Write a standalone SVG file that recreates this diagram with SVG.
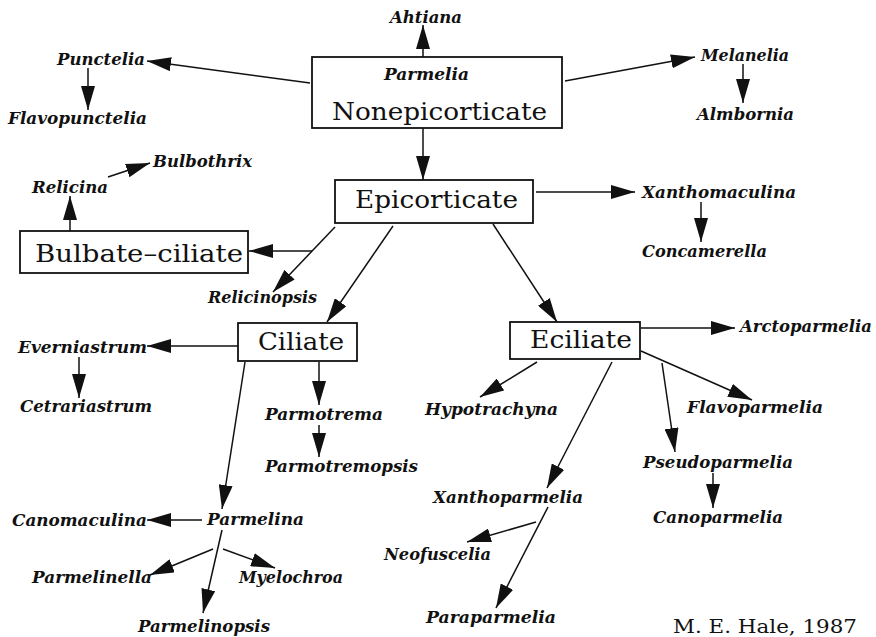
<svg xmlns="http://www.w3.org/2000/svg" width="876" height="637" viewBox="0 0 876 637">
<defs>
<style>
.box{fill:#fff;stroke:#111;stroke-width:1.8}
.big{font-family:"DejaVu Serif","Liberation Serif",serif;font-size:23.5px;fill:#111}
.lab{font-family:"DejaVu Serif","Liberation Serif",serif;font-size:16px;font-weight:bold;font-style:italic;fill:#111}
.sig{font-family:"DejaVu Serif","Liberation Serif",serif;font-size:19px;fill:#111}
#connectors line{stroke:#111;stroke-width:1.5;marker-end:url(#ah)}
</style>
<marker id="ah" markerUnits="userSpaceOnUse" markerWidth="24" markerHeight="14" refX="24" refY="7" orient="auto">
<path d="M0,0 L24,7 L0,14 z" fill="#111"/>
</marker>
</defs>
<rect width="876" height="637" fill="#fff"/>
<g id="connectors">
<line x1="423" y1="57" x2="423" y2="25"/>
<line x1="423" y1="128" x2="423" y2="180"/>
<line x1="310" y1="83" x2="147" y2="61"/>
<line x1="88" y1="68" x2="88" y2="110"/>
<line x1="565" y1="81" x2="695" y2="57"/>
<line x1="743" y1="64" x2="743" y2="103"/>
<line x1="536" y1="192" x2="635" y2="192"/>
<line x1="701" y1="202" x2="701" y2="242"/>
<line x1="335" y1="227" x2="273" y2="292"/>
<line x1="312" y1="251" x2="249" y2="251"/>
<line x1="70" y1="231" x2="70" y2="196"/>
<line x1="108" y1="177" x2="150" y2="163"/>
<line x1="393" y1="226" x2="327" y2="322"/>
<line x1="493" y1="224" x2="557" y2="322"/>
<line x1="238" y1="346" x2="147" y2="346"/>
<line x1="79" y1="357" x2="79" y2="398"/>
<line x1="319" y1="362" x2="319" y2="405"/>
<line x1="319" y1="425" x2="319" y2="457"/>
<line x1="245" y1="362" x2="222" y2="509"/>
<line x1="202" y1="520" x2="147" y2="520"/>
<line x1="222" y1="530" x2="203" y2="613"/>
<line x1="213" y1="549" x2="150" y2="575"/>
<line x1="223" y1="549" x2="275" y2="568"/>
<line x1="641" y1="328" x2="735" y2="328"/>
<line x1="537" y1="362" x2="480" y2="397"/>
<line x1="612" y1="362" x2="547" y2="488"/>
<line x1="662" y1="363" x2="675" y2="452"/>
<line x1="641" y1="351" x2="752" y2="400"/>
<line x1="713" y1="473" x2="713" y2="508"/>
<line x1="536" y1="522" x2="467" y2="542"/>
<line x1="548" y1="507" x2="496" y2="608"/>
</g>
<g id="nonepicorticate">
<rect class="box" x="312" y="57" width="250" height="71"/>
<text class="lab" x="384" y="80" textLength="85" lengthAdjust="spacingAndGlyphs">Parmelia</text>
<text class="big" x="332" y="120" textLength="215" lengthAdjust="spacingAndGlyphs">Nonepicorticate</text>
</g>
<g id="epicorticate">
<rect class="box" x="335" y="180" width="198" height="43"/>
<text class="big" x="355" y="208" textLength="163" lengthAdjust="spacingAndGlyphs">Epicorticate</text>
</g>
<g id="bulbate-ciliate">
<rect class="box" x="20" y="231" width="228" height="42"/>
<text class="big" x="35" y="262" textLength="208" lengthAdjust="spacingAndGlyphs">Bulbate–ciliate</text>
</g>
<g id="ciliate">
<rect class="box" x="238" y="323" width="119" height="38"/>
<text class="big" x="258" y="350" textLength="86" lengthAdjust="spacingAndGlyphs">Ciliate</text>
</g>
<g id="eciliate">
<rect class="box" x="510" y="322" width="130" height="37"/>
<text class="big" x="530" y="348" textLength="102" lengthAdjust="spacingAndGlyphs">Eciliate</text>
</g>
<g id="ahtiana"><text class="lab" x="390" y="23" textLength="72" lengthAdjust="spacingAndGlyphs">Ahtiana</text></g>
<g id="punctelia"><text class="lab" x="57" y="65" textLength="88" lengthAdjust="spacingAndGlyphs">Punctelia</text></g>
<g id="flavopunctelia"><text class="lab" x="8" y="124" textLength="139" lengthAdjust="spacingAndGlyphs">Flavopunctelia</text></g>
<g id="melanelia"><text class="lab" x="701" y="61" textLength="88" lengthAdjust="spacingAndGlyphs">Melanelia</text></g>
<g id="almbornia"><text class="lab" x="697" y="120" textLength="97" lengthAdjust="spacingAndGlyphs">Almbornia</text></g>
<g id="relicina"><text class="lab" x="32" y="193" textLength="76" lengthAdjust="spacingAndGlyphs">Relicina</text></g>
<g id="bulbothrix"><text class="lab" x="153" y="167" textLength="99" lengthAdjust="spacingAndGlyphs">Bulbothrix</text></g>
<g id="xanthomaculina"><text class="lab" x="642" y="198" textLength="154" lengthAdjust="spacingAndGlyphs">Xanthomaculina</text></g>
<g id="concamerella"><text class="lab" x="642" y="257" textLength="125" lengthAdjust="spacingAndGlyphs">Concamerella</text></g>
<g id="relicinopsis"><text class="lab" x="208" y="303" textLength="109" lengthAdjust="spacingAndGlyphs">Relicinopsis</text></g>
<g id="arctoparmelia"><text class="lab" x="740" y="332" textLength="132" lengthAdjust="spacingAndGlyphs">Arctoparmelia</text></g>
<g id="everniastrum"><text class="lab" x="18" y="353" textLength="129" lengthAdjust="spacingAndGlyphs">Everniastrum</text></g>
<g id="cetrariastrum"><text class="lab" x="20" y="412" textLength="132" lengthAdjust="spacingAndGlyphs">Cetrariastrum</text></g>
<g id="parmotrema"><text class="lab" x="265" y="420" textLength="118" lengthAdjust="spacingAndGlyphs">Parmotrema</text></g>
<g id="parmotremopsis"><text class="lab" x="265" y="472" textLength="153" lengthAdjust="spacingAndGlyphs">Parmotremopsis</text></g>
<g id="hypotrachyna"><text class="lab" x="425" y="415" textLength="133" lengthAdjust="spacingAndGlyphs">Hypotrachyna</text></g>
<g id="flavoparmelia"><text class="lab" x="687" y="413" textLength="136" lengthAdjust="spacingAndGlyphs">Flavoparmelia</text></g>
<g id="pseudoparmelia"><text class="lab" x="643" y="468" textLength="150" lengthAdjust="spacingAndGlyphs">Pseudoparmelia</text></g>
<g id="canoparmelia"><text class="lab" x="653" y="523" textLength="130" lengthAdjust="spacingAndGlyphs">Canoparmelia</text></g>
<g id="xanthoparmelia"><text class="lab" x="433" y="503" textLength="150" lengthAdjust="spacingAndGlyphs">Xanthoparmelia</text></g>
<g id="parmelina"><text class="lab" x="207" y="525" textLength="97" lengthAdjust="spacingAndGlyphs">Parmelina</text></g>
<g id="canomaculina"><text class="lab" x="12" y="526" textLength="135" lengthAdjust="spacingAndGlyphs">Canomaculina</text></g>
<g id="neofuscelia"><text class="lab" x="384" y="560" textLength="107" lengthAdjust="spacingAndGlyphs">Neofuscelia</text></g>
<g id="parmelinella"><text class="lab" x="32" y="583" textLength="120" lengthAdjust="spacingAndGlyphs">Parmelinella</text></g>
<g id="myelochroa"><text class="lab" x="239" y="583" textLength="104" lengthAdjust="spacingAndGlyphs">Myelochroa</text></g>
<g id="parmelinopsis"><text class="lab" x="138" y="632" textLength="132" lengthAdjust="spacingAndGlyphs">Parmelinopsis</text></g>
<g id="paraparmelia"><text class="lab" x="426" y="623" textLength="130" lengthAdjust="spacingAndGlyphs">Paraparmelia</text></g>
<text class="sig" x="673" y="633" textLength="184" lengthAdjust="spacingAndGlyphs">M. E. Hale, 1987</text>
</svg>
